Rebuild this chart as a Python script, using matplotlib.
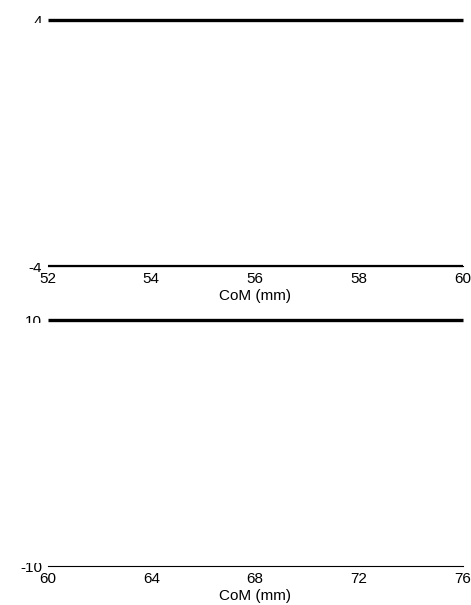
import matplotlib
matplotlib.use("Agg")
import matplotlib.pyplot as plt
from matplotlib.patches import Rectangle

plt.rcParams['font.family'] = ['Liberation Sans', 'DejaVu Sans']
plt.rcParams['font.size'] = 11

# Panel 1 data
x1_ticks = [52, 54, 56, 58, 60]
y1_ticks = [-4, 4]
y1_labels = ['-4', '4']
line1_top_x = [52, 60]
line1_top_y = [4, 4]
line1_bot_x = [52, 60]
line1_bot_y = [-4, -4]

# Panel 2 data
x2_ticks = [60, 64, 68, 72, 76]
y2_ticks = [-10, 10]
y2_labels = ['-10', '10']
line2_top_x = [60, 76]
line2_top_y = [10, 10]

xlabel = 'CoM (mm)'

W, H = 471, 605
fig = plt.figure(figsize=(W / 100, H / 100), dpi=100)

def make_ax(top_px, bot_px):
    left = 47.5 / W
    right = 462.5 / W
    return fig.add_axes([left, 1 - bot_px / H, right - left, (bot_px - top_px) / H])

ax1 = make_ax(20, 266)
ax2 = make_ax(320, 566)

def style(ax, xt, yt, ylab, top_x, top_y, bot=None):
    ax.set_xlim(xt[0], xt[-1])
    ax.set_ylim(yt[0], yt[-1])
    ax.set_xticks(xt)
    ax.set_xticklabels([str(v) for v in xt])
    ax.set_yticks(yt)
    ax.set_yticklabels(ylab)
    ax.tick_params(axis='both', length=0)
    ax.tick_params(axis='x', pad=4.5)
    ax.tick_params(axis='y', pad=4)
    for s in ['left', 'right', 'top']:
        ax.spines[s].set_visible(False)
    ax.spines['bottom'].set_linewidth(0.8)
    ax.plot(top_x, top_y, color='black', lw=2.4, clip_on=False, zorder=5,
            solid_capstyle='butt')
    if bot is not None:
        ax.plot(bot[0], bot[1], color='black', lw=1.6, clip_on=False, zorder=5,
                solid_capstyle='butt')
    ax.set_xlabel(xlabel, labelpad=2)
    # white cover over label area (as in reference, labels only partly visible)
    rect = Rectangle((-0.12, 0.014), 0.12, 0.972, transform=ax.transAxes,
                     facecolor='white', edgecolor='none', clip_on=False, zorder=3)
    ax.add_patch(rect)

style(ax1, x1_ticks, y1_ticks, y1_labels, line1_top_x, line1_top_y,
      (line1_bot_x, line1_bot_y))
style(ax2, x2_ticks, y2_ticks, y2_labels, line2_top_x, line2_top_y)

fig.savefig('out.png', dpi=100)
